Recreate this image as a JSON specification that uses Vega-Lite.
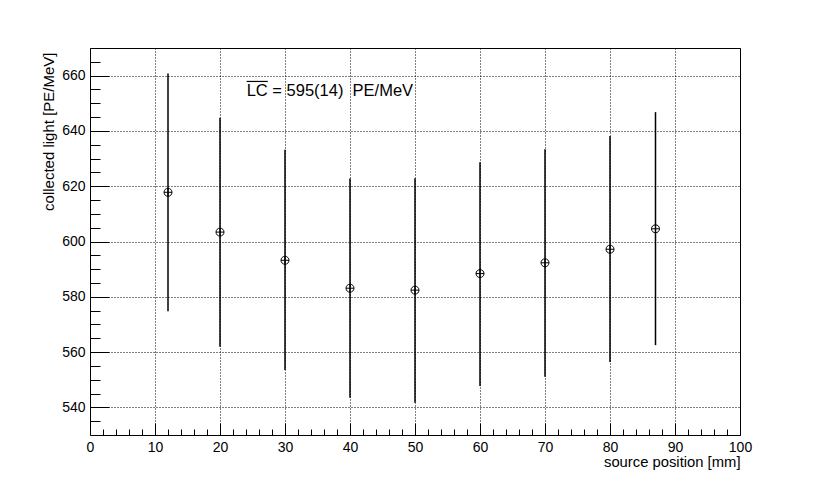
{
  "$schema": "https://vega.github.io/schema/vega-lite/v6.json",
  "width": 650,
  "height": 387,
  "autosize": "none",
  "padding": {"left": 90, "top": 48, "right": 82, "bottom": 49},
  "background": "white",
  "config": {
    "font": "Liberation Sans",
    "view": {"stroke": "black", "strokeWidth": 1},
    "axis": {"domain": false}
  },
  "datasets": {
    "pts": [
      {"pos": 12, "lc": 617.8, "lo": 574.8, "hi": 660.8},
      {"pos": 20, "lc": 603.4, "lo": 561.9, "hi": 644.8},
      {"pos": 30, "lc": 593.2, "lo": 553.5, "hi": 633.2},
      {"pos": 40, "lc": 583.1, "lo": 543.5, "hi": 622.8},
      {"pos": 50, "lc": 582.4, "lo": 541.7, "hi": 622.9},
      {"pos": 60, "lc": 588.4, "lo": 547.7, "hi": 628.7},
      {"pos": 70, "lc": 592.3, "lo": 551.1, "hi": 633.4},
      {"pos": 80, "lc": 597.2, "lo": 556.4, "hi": 638.2},
      {"pos": 87, "lc": 604.6, "lo": 562.5, "hi": 646.8}
    ],
    "note": [
      {"x": 24.1, "x2": 27.35, "ybar": 657.9, "ytext": 652.7, "label": "LC = 595(14)\u00a0\u00a0PE/MeV"}
    ]
  },
  "layer": [
    {
      "data": {"name": "pts"},
      "mark": {"type": "rule", "color": "black", "strokeWidth": 1.5},
      "encoding": {
        "x": {
          "field": "pos", "type": "quantitative",
          "scale": {"domain": [0, 100], "nice": false, "zero": false},
          "axis": {
            "values": [0,2,4,6,8,10,12,14,16,18,20,22,24,26,28,30,32,34,36,38,40,42,44,46,48,50,52,54,56,58,60,62,64,66,68,70,72,74,76,78,80,82,84,86,88,90,92,94,96,98,100],
            "tickCount": 500,
            "format": "d",
            "labelExpr": "datum.value % 10 === 0 ? datum.label : ''",
            "labelOverlap": false, "labelBound": false, "labelFlush": false,
            "labelFontSize": 14, "labelColor": "black", "labelPadding": 17,
            "tickColor": "black", "tickWidth": 1,
            "tickSize": {"condition": {"test": "datum.value % 10 === 0", "value": -12}, "value": -6},
            "grid": true, "gridColor": "black", "gridDash": [1, 2], "gridWidth": 1,
            "gridOpacity": {"condition": {"test": "datum.value % 10 === 0", "value": 1}, "value": 0},
            "title": "source position [mm]", "titleFontSize": 14.8, "titleFontWeight": "normal",
            "titleColor": "black", "titleAlign": "right", "titleAnchor": "end",
            "titleX": 650, "titleY": 31, "titleBaseline": "alphabetic"
          }
        },
        "y": {
          "field": "lo", "type": "quantitative",
          "scale": {"domain": [530, 670], "nice": false, "zero": false},
          "axis": {
            "values": [535,540,545,550,555,560,565,570,575,580,585,590,595,600,605,610,615,620,625,630,635,640,645,650,655,660,665],
            "tickCount": 500,
            "format": "d",
            "labelExpr": "datum.value % 20 === 0 ? datum.label : ''",
            "labelOverlap": false, "labelBound": false, "labelFlush": false,
            "labelFontSize": 14, "labelColor": "black", "labelPadding": 24,
            "tickColor": "black", "tickWidth": 1,
            "tickSize": {"condition": {"test": "datum.value % 20 === 0", "value": -19}, "value": -10},
            "grid": true, "gridColor": "black", "gridDash": [1, 2], "gridWidth": 1,
            "gridOpacity": {"condition": {"test": "datum.value % 20 === 0", "value": 1}, "value": 0},
            "title": "collected light [PE/MeV]", "titleFontSize": 15, "titleFontWeight": "normal",
            "titleColor": "black", "titleAngle": -90, "titleAlign": "right", "titleAnchor": "end",
            "titleX": -42, "titleY": 4, "titleBaseline": "middle"
          }
        },
        "y2": {"field": "hi"}
      }
    },
    {
      "data": {"name": "pts"},
      "mark": {
        "type": "point",
        "shape": "M-1,0A1,1,0,1,0,1,0A1,1,0,1,0,-1,0ZM-1,0L1,0M0,-1L0,1",
        "size": 64, "filled": false, "stroke": "black", "strokeWidth": 1, "opacity": 1
      },
      "encoding": {
        "x": {"field": "pos", "type": "quantitative"},
        "y": {"field": "lc", "type": "quantitative"}
      }
    },
    {
      "data": {"name": "note"},
      "mark": {"type": "text", "align": "left", "baseline": "alphabetic", "fontSize": 16.5, "color": "black"},
      "encoding": {
        "x": {"field": "x", "type": "quantitative"},
        "y": {"field": "ytext", "type": "quantitative"},
        "text": {"field": "label"}
      }
    },
    {
      "data": {"name": "note"},
      "mark": {"type": "rule", "color": "black", "strokeWidth": 1.2},
      "encoding": {
        "x": {"field": "x", "type": "quantitative"},
        "x2": {"field": "x2"},
        "y": {"field": "ybar", "type": "quantitative"}
      }
    }
  ]
}
